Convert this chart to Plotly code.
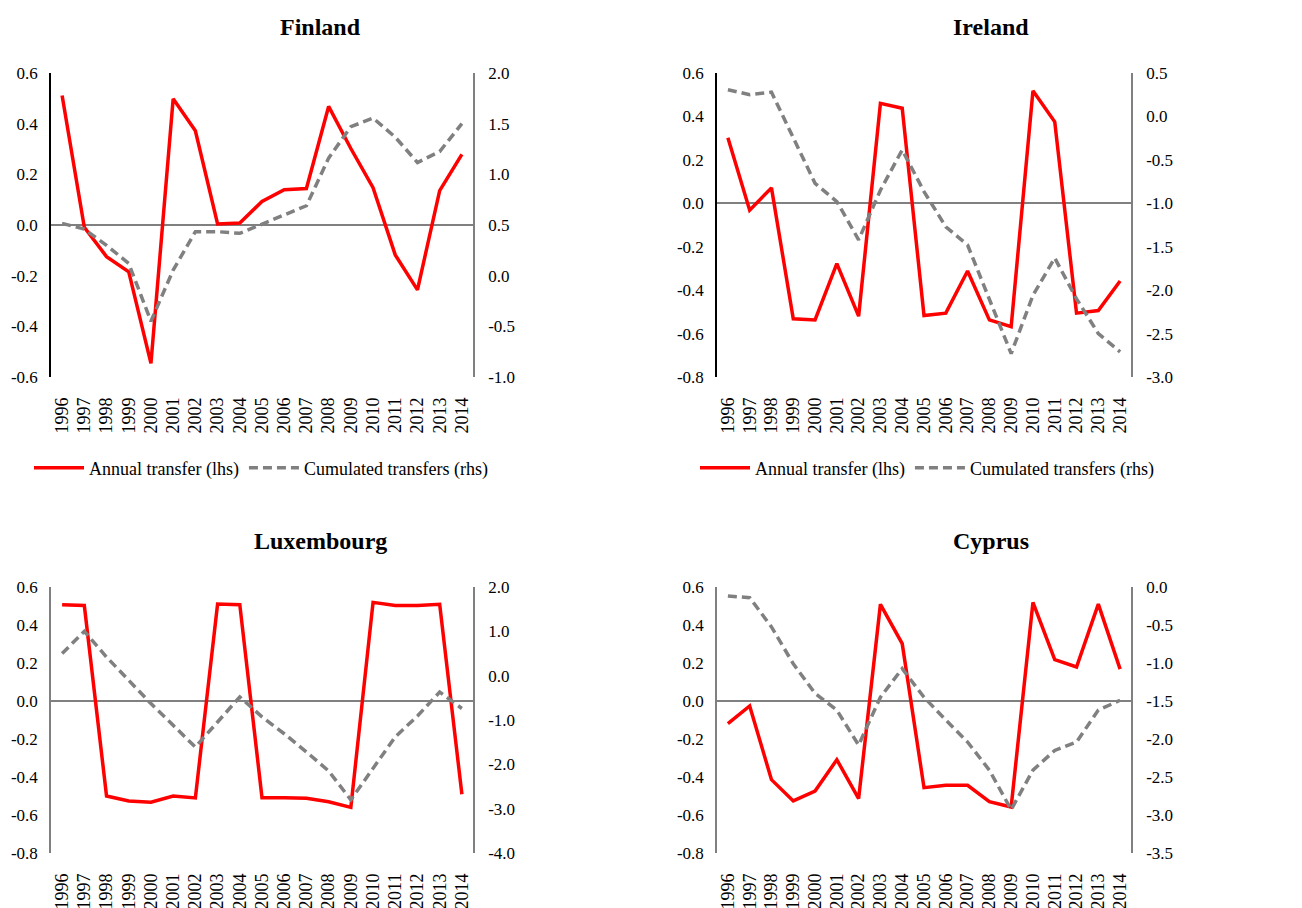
import plotly.graph_objects as go

years = [str(y) for y in range(1996, 2015)]

finland_annual = [0.511, -0.009, -0.125, -0.185, -0.546, 0.498, 0.372, 0.004, 0.008, 0.093,
                  0.139, 0.144, 0.468, 0.302, 0.147, -0.118, -0.256, 0.136, 0.279]
finland_cum = [0.516, 0.46, 0.30, 0.12, -0.45, 0.055, 0.434, 0.434, 0.418, 0.51,
               0.60, 0.69, 1.16, 1.47, 1.555, 1.367, 1.117, 1.225, 1.50]

ireland_annual = [0.302, -0.032, 0.071, -0.532, -0.537, -0.278, -0.52, 0.46, 0.438, -0.517,
                  -0.506, -0.312, -0.537, -0.568, 0.518, 0.375, -0.506, -0.494, -0.358]
ireland_cum = [0.308, 0.25, 0.28, -0.25, -0.77, -0.98, -1.42, -0.85, -0.385, -0.865,
               -1.27, -1.48, -2.10, -2.73, -2.06, -1.63, -2.10, -2.50, -2.71]

lux_annual = [0.507, 0.503, -0.50, -0.526, -0.533, -0.50, -0.51, 0.51, 0.507, -0.509,
              -0.509, -0.512, -0.53, -0.56, 0.519, 0.503, 0.502, 0.509, -0.491]
lux_cum = [0.50, 1.00, 0.42, -0.105, -0.63, -1.12, -1.61, -1.045, -0.48, -0.93,
           -1.31, -1.72, -2.15, -2.80, -2.10, -1.38, -0.91, -0.37, -0.74]

cyprus_annual = [-0.119, -0.026, -0.414, -0.526, -0.474, -0.309, -0.514, 0.509, 0.302, -0.456,
                 -0.444, -0.444, -0.53, -0.558, 0.519, 0.218, 0.179, 0.51, 0.168]
cyprus_cum = [-0.118, -0.14, -0.526, -1.01, -1.40, -1.62, -2.08, -1.45, -1.075, -1.45,
              -1.75, -2.04, -2.41, -2.93, -2.41, -2.15, -2.04, -1.62, -1.49]

titles = ["Finland", "Ireland", "Luxembourg", "Cyprus"]
lhs_ticks = [
    [-0.6, -0.4, -0.2, 0.0, 0.2, 0.4, 0.6],
    [-0.8, -0.6, -0.4, -0.2, 0.0, 0.2, 0.4, 0.6],
    [-0.8, -0.6, -0.4, -0.2, 0.0, 0.2, 0.4, 0.6],
    [-0.8, -0.6, -0.4, -0.2, 0.0, 0.2, 0.4, 0.6],
]
rhs_ticks = [
    [-1.0, -0.5, 0.0, 0.5, 1.0, 1.5, 2.0],
    [-3.0, -2.5, -2.0, -1.5, -1.0, -0.5, 0.0, 0.5],
    [-4.0, -3.0, -2.0, -1.0, 0.0, 1.0, 2.0],
    [-3.5, -3.0, -2.5, -2.0, -1.5, -1.0, -0.5, 0.0],
]
annual = [finland_annual, ireland_annual, lux_annual, cyprus_annual]
cum = [finland_cum, ireland_cum, lux_cum, cyprus_cum]

W, H = 1302, 908
OFF = 8  # default page body margin
FONT = "Liberation Serif"
RED = "#FF0000"
GREY = "#808080"


def px_x(px):
    return (px - OFF) / W


def px_y(py):
    return 1 - (py - OFF) / H


# panel pixel boxes: (x0, x1, ytop, ybottom)
boxes = [(51, 473, 73, 377), (717, 1131, 73, 377), (51, 473, 587, 853), (717, 1131, 587, 853)]
left_line_colors = ["#000000", "#000000", GREY, GREY]
title_pos = [(320, 27), (991, 27), (320, 541), (991, 541)]

fig = go.Figure()
layout = dict(
    width=W, height=H,
    margin=dict(l=0, r=0, t=0, b=0, autoexpand=False),
    paper_bgcolor="white", plot_bgcolor="white",
    font=dict(family=FONT, size=17, color="black"),
    annotations=[],
)

for i in range(4):
    xi = "" if i == 0 else str(i + 1)
    yl = str(2 * i + 1) if i > 0 else ""
    yr = str(2 * i + 2)
    x0, x1, yt, yb = boxes[i]
    legend_name = "legend" if i == 0 else ("legend2" if i == 1 else None)
    show = i < 2
    fig.add_trace(go.Scatter(
        x=years, y=annual[i], mode="lines", name="Annual transfer (lhs)",
        line=dict(color=RED, width=3.5), xaxis="x" + xi, yaxis="y" + yl,
        showlegend=show, legend=legend_name if show else None,
    ))
    fig.add_trace(go.Scatter(
        x=years, y=cum[i], mode="lines", name="Cumulated transfers (rhs)",
        line=dict(color=GREY, width=3.5, dash="9px,5px"), xaxis="x" + xi, yaxis="y" + yr,
        showlegend=show, legend=legend_name if show else None,
    ))
    layout["xaxis" + xi] = dict(
        domain=[px_x(x0), px_x(x1)], anchor="y" + yl, type="category",
        range=[-0.5, 18.5], showline=False, showgrid=False, zeroline=False,
        tickmode="array", tickvals=years, ticktext=years,
        ticks="", tickangle=-90, tickfont=dict(size=18), ticklabelstandoff=16,
        automargin=False,
    )
    lt = lhs_ticks[i]
    layout["yaxis" + yl] = dict(
        domain=[px_y(yb), px_y(yt)], anchor="x" + xi,
        range=[lt[0], lt[-1]], tickvals=lt, ticktext=[f"{v:.1f}" for v in lt],
        tickfont=dict(size=17),
        showline=True, linecolor=left_line_colors[i], linewidth=1.5,
        showgrid=False, zeroline=True, zerolinecolor=GREY, zerolinewidth=1.5,
        ticks="", ticklabelstandoff=8, automargin=False,
    )
    rt = rhs_ticks[i]
    layout["yaxis" + yr] = dict(
        overlaying="y" + yl, side="right", anchor="x" + xi,
        range=[rt[0], rt[-1]], tickvals=rt, ticktext=[f"{v:.1f}" for v in rt],
        tickfont=dict(size=17),
        showline=True, linecolor=GREY, linewidth=1.5,
        showgrid=False, zeroline=False, ticks="", ticklabelstandoff=10,
        automargin=False,
    )
    tx, ty = title_pos[i]
    layout["annotations"].append(dict(
        text=f"<b>{titles[i]}</b>", x=px_x(tx), y=px_y(ty), xref="paper", yref="paper",
        xanchor="center", yanchor="middle", showarrow=False,
        font=dict(family=FONT, size=24, color="black"),
    ))

legend_common = dict(orientation="h", xanchor="center", yanchor="middle",
                     y=px_y(468), bgcolor="rgba(0,0,0,0)",
                     font=dict(family=FONT, size=18, color="black"), itemwidth=50)
layout["legend"] = dict(x=px_x(261), **legend_common)
layout["legend2"] = dict(x=px_x(927), **legend_common)

fig.update_layout(**layout)
fig.write_html("out.html")
